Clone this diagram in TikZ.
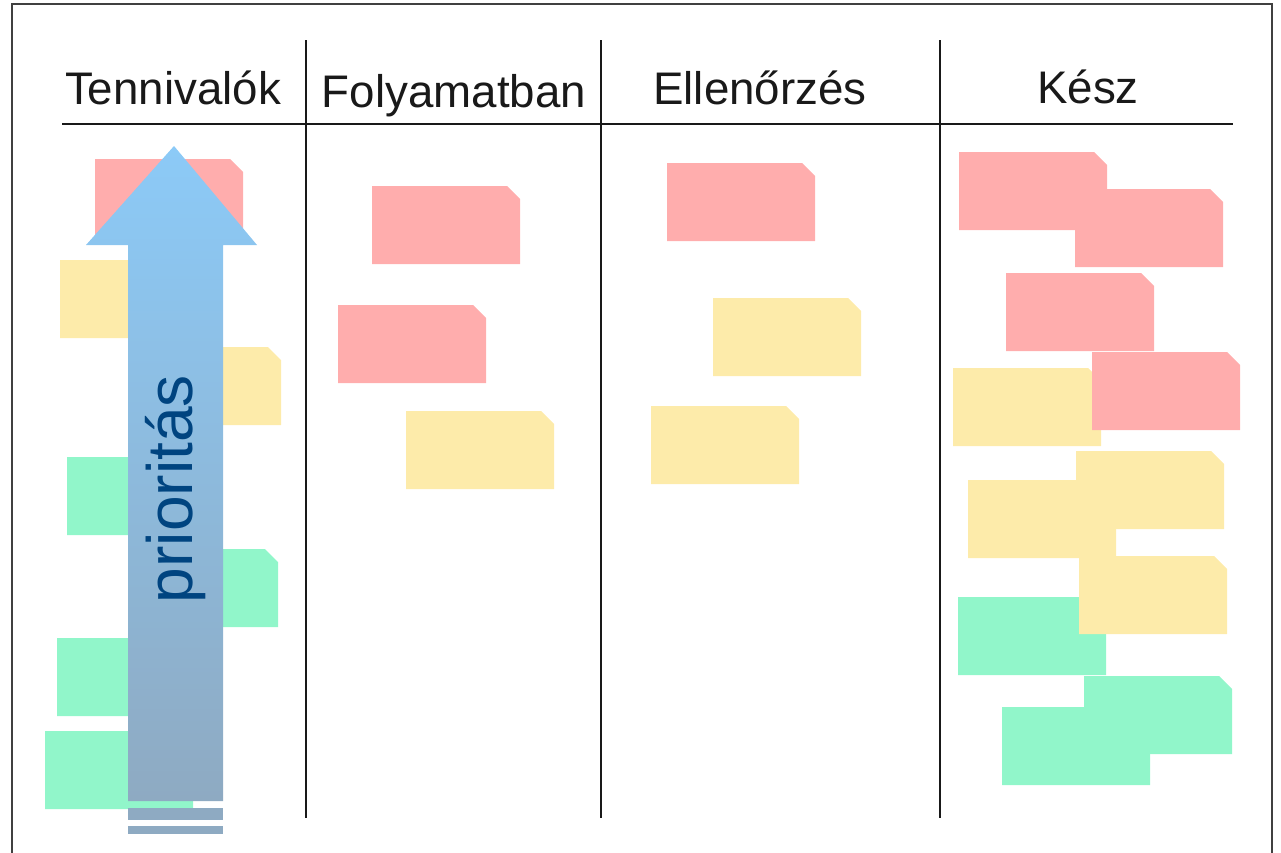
\documentclass[tikz,border=0pt]{standalone}
\usepackage{fontspec}
\setmainfont{Liberation Sans}

\definecolor{notered}{RGB}{255,173,173}
\definecolor{noteyellow}{RGB}{253,235,170}
\definecolor{notegreen}{RGB}{145,246,202}
\definecolor{arrowtop}{RGB}{140,202,247}
\definecolor{arrowmid}{RGB}{124,176,222}
\definecolor{arrowbot}{RGB}{142,170,194}
\definecolor{priotext}{RGB}{0,68,128}
\definecolor{frame}{RGB}{64,64,64}

\begin{document}
\begin{tikzpicture}[x=0.02cm,y=-0.02cm,
  card/.pic={\fill[pic actions] (0,0) -- (135,0) -- (148,13) -- (148,78)
    -- (0,78) -- cycle;
    \coordinate (-nw) at (0,0);},
  redcard/.style={fill=notered},
  yellowcard/.style={fill=noteyellow},
  greencard/.style={fill=notegreen},
  heading/.style={anchor=base,text=black!90,font=\fontsize{26}{30}\selectfont},
  divider/.style={line width=1.1pt,black!90}]
  \useasboundingbox (0,0) rectangle (1281,852);
  \draw[frame,line width=1.2pt] (12,860) -- (12,4) -- (1272,4) -- (1272,860);

  % Tennivalok
  \pic[redcard] (t1) at (95,159) {card};
  \pic[yellowcard] (t2) at (60,260) {card};
  \pic[yellowcard] (t3) at (133,347) {card};
  \pic[greencard] (t4) at (67,457) {card};
  \pic[greencard] (t5) at (130,549) {card};
  \pic[greencard] (t6) at (57,638) {card};
  \pic[greencard] (t7) at (45,731) {card};

  \shade[top color=arrowtop,middle color=arrowmid,bottom color=arrowbot]
    (128,801) -- (128,245) -- (86,245) -- (174,146) -- (257,245)
    -- (223,245) -- (223,801) -- cycle;
  \fill[arrowbot] (128,808) rectangle (223,820);
  \fill[arrowbot] (128,826) rectangle (223,834);
  \node[rotate=90,anchor=base,text=priotext,font=\fontsize{36.5}{40}\selectfont]
    (prio) at (192,489) {prioritás};

  % Folyamatban
  \pic[redcard] (f1) at (372,186) {card};
  \pic[redcard] (f2) at (338,305) {card};
  \pic[yellowcard] (f3) at (406,411) {card};

  % Ellenorzes
  \pic[redcard] (e1) at (667,163) {card};
  \pic[yellowcard] (e2) at (713,298) {card};
  \pic[yellowcard] (e3) at (651,406) {card};

  % Kesz
  \pic[redcard] (k1) at (959,152) {card};
  \pic[redcard] (k2) at (1075,189) {card};
  \pic[redcard] (k3) at (1006,273) {card};
  \pic[yellowcard] (k4) at (953,368) {card};
  \pic[redcard] (k5) at (1092,352) {card};
  \pic[yellowcard] (k6) at (1076,451) {card};
  \pic[yellowcard] (k7) at (968,480) {card};
  \pic[greencard] (k8) at (958,597) {card};
  \pic[yellowcard] (k9) at (1079,556) {card};
  \pic[greencard] (k10) at (1084,676) {card};
  \pic[greencard] (k11) at (1002,707) {card};

  \node[heading] (todo) at (173,104) {Tennivalók};
  \node[heading] (doing) at (454,107) {Folyamatban};
  \node[heading] (check) at (760,104) {Ellenőrzés};
  \node[heading] (done) at (1088,103) {Kész};

  \coordinate (h1) at (62,124);
  \coordinate (h2) at (1233,124);
  \draw[divider] (h1) -- (h2);
  \foreach \x/\n in {306/a,601/b,940/c}{
    \coordinate (top\n) at (\x,40);
    \coordinate (bot\n) at (\x,818);
    \draw[divider] (top\n) -- (bot\n);
  }
\end{tikzpicture}
\end{document}
